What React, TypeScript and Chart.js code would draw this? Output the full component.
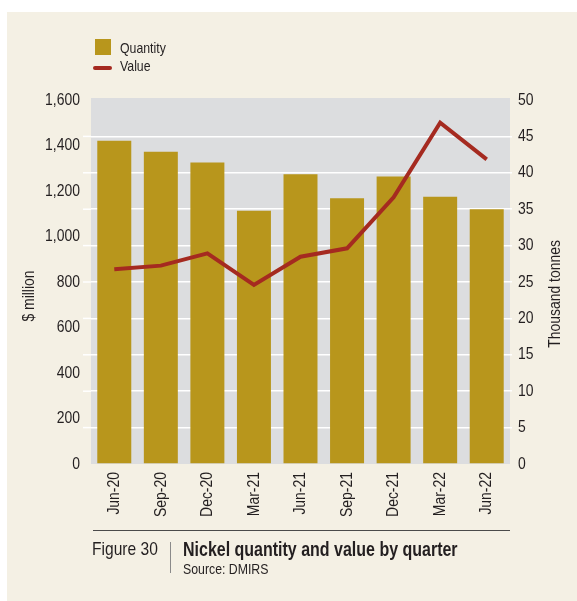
import React, { useEffect, useRef } from "react";
import { Chart, registerables } from "chart.js";

Chart.register(...registerables);

const categories = ["Jun-20", "Sep-20", "Dec-20", "Mar-21", "Jun-21", "Sep-21", "Dec-21", "Mar-22", "Jun-22"];
const quantityKt = [44.4, 42.9, 41.4, 34.8, 39.8, 36.5, 39.5, 36.7, 35.0];
const valueMillion = [856, 872, 926, 787, 911, 948, 1172, 1500, 1339];
const leftTicks = [0, 200, 400, 600, 800, 1000, 1200, 1400, 1600];
const rightTicks = [0, 5, 10, 15, 20, 25, 30, 35, 40, 45, 50];

const FONT = "'Liberation Sans', Arial, sans-serif";
const NARROW = 0.82; // horizontal squeeze to imitate Arial Narrow
const TEXT = "#231f20";
const BAR = "#b8961c";
const LINE = "#a52a20";
const PLOTBG = "#dcdddf";
const CREAM = "#f4f0e4";

const W = 570;
const H = 589;

const decorPlugin = {
  id: "decor",
  beforeDraw(chart: any) {
    const { ctx, chartArea } = chart;
    ctx.save();
    ctx.fillStyle = PLOTBG;
    ctx.fillRect(chartArea.left, chartArea.top - 2, chartArea.right - chartArea.left, chartArea.bottom - chartArea.top + 2);
    const y1 = chart.scales.y1;
    ctx.strokeStyle = "#ffffff";
    ctx.lineWidth = 1.5;
    rightTicks.forEach((t) => {
      if (t === 0 || t === 50) return;
      const py = y1.getPixelForValue(t);
      ctx.beginPath();
      ctx.moveTo(chartArea.left - 8, py);
      ctx.lineTo(chartArea.left, py);
      ctx.stroke();
    });
    ctx.restore();
  },
  afterDraw(chart: any) {
    const { ctx } = chart;
    ctx.save();
    ctx.fillStyle = BAR;
    ctx.fillRect(88, 27, 16, 16);
    ctx.strokeStyle = LINE;
    ctx.lineWidth = 4;
    ctx.lineCap = "round";
    ctx.beginPath();
    ctx.moveTo(88, 56);
    ctx.lineTo(103, 56);
    ctx.stroke();
    ctx.fillStyle = TEXT;
    ctx.font = `15px ${FONT}`;
    ctx.textBaseline = "alphabetic";
    ctx.textAlign = "left";
    ctx.fillText("Quantity", 113, 41);
    ctx.fillText("Value", 113, 59);
    ctx.font = `17px ${FONT}`;
    ctx.textAlign = "center";
    ctx.textBaseline = "middle";
    ctx.save();
    ctx.translate(22, 284);
    ctx.rotate(-Math.PI / 2);
    ctx.fillText("$ million", 0, 0);
    ctx.restore();
    ctx.save();
    ctx.translate(548, 282);
    ctx.rotate(-Math.PI / 2);
    ctx.fillText("Thousand tonnes", 0, 0);
    ctx.restore();
    ctx.restore();
  },
};

const narrowStyle = (size: number, bold = false): React.CSSProperties => ({
  display: "inline-block",
  fontFamily: FONT,
  fontSize: size,
  fontWeight: bold ? "bold" : "normal",
  lineHeight: `${Math.round(size) + 1}px`,
  color: TEXT,
  whiteSpace: "nowrap",
  transform: `scaleX(${NARROW})`,
  transformOrigin: "left center",
});

export default function App() {
  const ref = useRef<HTMLCanvasElement>(null);

  useEffect(() => {
    const canvas = ref.current;
    if (!canvas) return;
    const c2d = canvas.getContext("2d") as any;
    const origFill = c2d.fillText.bind(c2d);
    c2d.fillText = (t: string, x: number, y: number) => {
      c2d.save();
      c2d.translate(x, y);
      c2d.scale(NARROW, 1);
      origFill(t, 0, 0);
      c2d.restore();
    };
    const chart = new Chart(canvas, {
      type: "bar",
      data: {
        labels: categories,
        datasets: [
          {
            type: "line",
            label: "Value",
            data: valueMillion,
            yAxisID: "y",
            borderColor: LINE,
            backgroundColor: LINE,
            borderWidth: 4,
            pointRadius: 0,
            tension: 0,
            borderJoinStyle: "miter",
            order: 0,
          } as any,
          {
            type: "bar",
            label: "Quantity",
            data: quantityKt,
            yAxisID: "y1",
            backgroundColor: BAR,
            barPercentage: 0.73,
            categoryPercentage: 1,
            order: 1,
          },
        ],
      },
      options: {
        responsive: false,
        animation: false,
        events: [],
        layout: { padding: { top: 88, left: 0, right: 0, bottom: 0 } },
        plugins: { legend: { display: false }, tooltip: { enabled: false }, title: { display: false } },
        scales: {
          x: {
            grid: { display: false, drawTicks: false },
            border: { display: false },
            ticks: {
              color: TEXT,
              font: { family: FONT, size: 17 },
              minRotation: 90,
              maxRotation: 90,
              padding: 8,
              autoSkip: false,
            },
            afterFit(scale: any) {
              scale.height = H - 452;
            },
          },
          y: {
            position: "left",
            min: 0,
            max: 1600,
            afterBuildTicks(scale: any) {
              scale.ticks = leftTicks.map((v) => ({ value: v }));
            },
            grid: { display: false, drawTicks: false },
            border: { display: false },
            ticks: {
              color: TEXT,
              font: { family: FONT, size: 17 },
              padding: 11,
              callback: (v: any) => Number(v).toLocaleString("en-US"),
            },
            afterFit(scale: any) {
              scale.width = 84;
            },
          },
          y1: {
            position: "right",
            min: 0,
            max: 50,
            afterBuildTicks(scale: any) {
              scale.ticks = rightTicks.map((v) => ({ value: v }));
            },
            grid: {
              color: (c: any) => (c.tick && (c.tick.value === 0 || c.tick.value === 50) ? "rgba(0,0,0,0)" : "#ffffff"),
              lineWidth: 1.5,
              drawTicks: true,
              tickLength: 2,
            },
            border: { display: false },
            ticks: {
              color: TEXT,
              font: { family: FONT, size: 17 },
              padding: 6,
            },
            afterFit(scale: any) {
              scale.width = W - 503;
            },
          },
        },
      },
      plugins: [decorPlugin],
    });
    return () => {
      chart.destroy();
      c2d.fillText = origFill;
    };
  }, []);

  return (
    <div style={{ position: "fixed", left: 0, top: 0, right: 0, bottom: 0, background: CREAM, overflow: "hidden" }}>
      <div style={{ position: "absolute", left: 0, top: 0, right: 0, height: 12, background: "#ffffff" }} />
      <div style={{ position: "absolute", left: 0, top: 0, bottom: 0, width: 7, background: "#ffffff" }} />
      <div style={{ position: "absolute", left: 7, top: 12, width: W, height: H }}>
        <canvas ref={ref} width={W} height={H} style={{ position: "absolute", left: 0, top: 0, width: W, height: H }} />
        <div style={{ position: "absolute", left: 86, top: 518, width: 417, height: 0, borderTop: "1px solid #4a4a4a" }} />
        <div style={{ position: "absolute", left: 85, top: 527 }}>
          <span style={narrowStyle(19)}>Figure 30</span>
        </div>
        <div style={{ position: "absolute", left: 163, top: 530, width: 1, height: 31, background: "#8a8a8a" }} />
        <div style={{ position: "absolute", left: 176, top: 527 }}>
          <span style={narrowStyle(19.5, true)}>Nickel quantity and value by quarter</span>
        </div>
        <div style={{ position: "absolute", left: 176, top: 548 }}>
          <span style={narrowStyle(15)}>Source: DMIRS</span>
        </div>
      </div>
    </div>
  );
}
